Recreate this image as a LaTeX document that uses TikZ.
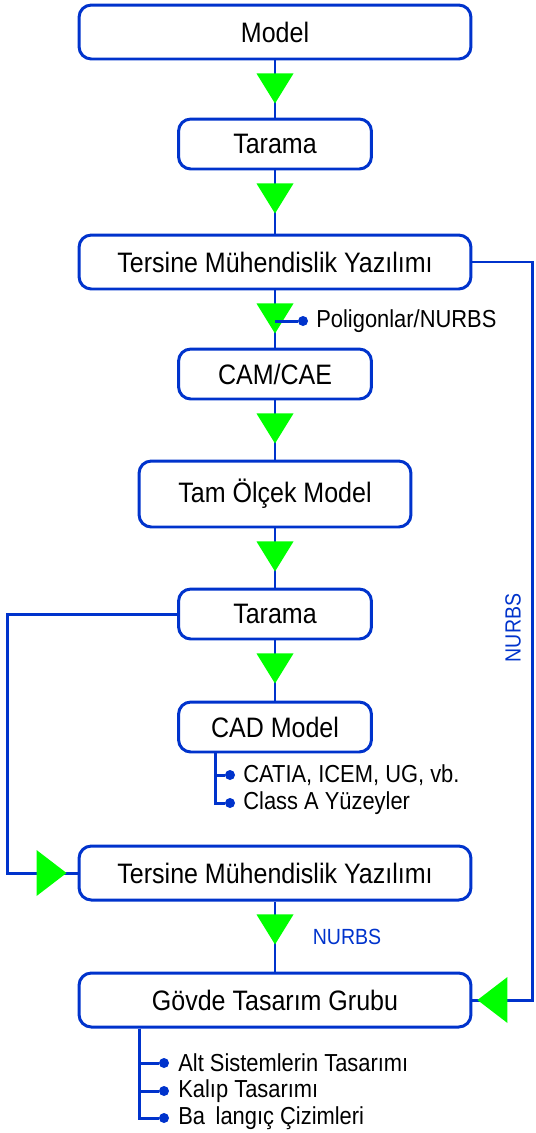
\documentclass[tikz,border=0pt]{standalone}
\usepackage{fontspec}
\setmainfont[FakeStretch=0.89]{Liberation Sans}
\usetikzlibrary{decorations.markings}
\definecolor{lineblue}{RGB}{0,51,204}
\definecolor{arrgreen}{RGB}{0,255,0}

\begin{document}
\begin{tikzpicture}[x=0.02cm, y=-0.02cm,
	box/.style = {draw=lineblue, line width=1.7pt, rounded corners=7pt, text=black, font=\fontsize{16}{19}\selectfont},
	wide/.style = {box, minimum width=7.84cm, minimum height=1.08cm},
	small/.style = {box, minimum width=3.86cm, minimum height=1.0cm},
	flow/.style = {draw=lineblue, line width=1.7pt},
	down/.style = {postaction=decorate, decoration={markings, mark=at position 0.86cm with {\fill[arrgreen] (0,0) -- (-30,18.5) -- (-30,-18.5) -- cycle;}}},
	side/.style = {postaction=decorate, decoration={markings, mark=at position #1 with {\fill[arrgreen] (0,0) -- (-30,23) -- (-30,-23) -- cycle;}}},
	dot/.style = {circle, fill=lineblue, inner sep=0pt, minimum size=0.2cm},
	item/.style = {anchor=west, inner sep=0pt, text=black, font=\fontsize{14}{16}\selectfont},
	tag/.style = {inner sep=0pt, text=lineblue, font=\fontsize{12.5}{15}\selectfont}]
	\useasboundingbox (0,0) rectangle (535,1133);
	\node[wide] (m) at (275,32) {Model};
	\node[small] (t1) at (275,144) {Tarama};
	\node[wide] (r1) at (275,262) {Tersine Mühendislik Yazılımı};
	\node[small] (c) at (275,374) {CAM/CAE};
	\node[box, minimum width=5.44cm, minimum height=1.32cm] (s) at (275,494) {Tam Ölçek Model};
	\node[small] (t2) at (275,614) {Tarama};
	\node[small] (cad) at (275,727) {CAD Model};
	\node[wide] (r2) at (275,873) {Tersine Mühendislik Yazılımı};
	\node[wide] (g) at (275,1000) {Gövde Tasarım Grubu};
	\draw[flow, down] (m) -- (t1);
	\draw[flow, down] (t1) -- (r1);
	\draw[flow, down] (r1) -- (c);
	\draw[flow, down] (c) -- (s);
	\draw[flow, down] (s) -- (t2);
	\draw[flow, down] (t2) -- (cad);
	\draw[flow, down] (r2) -- (g);
	\draw[flow, side=-0.22cm] (t2.west) -| ([xshift=-1.4cm]r2.west) -- (r2.west);
	\draw[flow, side=-0.1cm] (r1.east) -| ([xshift=1.2cm]g.east) -- (g.east);
	\node[dot] (p0) at (303,321) {};
	\node[item] (p) at (316,321) {Poligonlar/NURBS};
	\draw[flow] (r1.south |- p0) -- (p0);
	\node[dot] (d1) at (230,775) {};
	\node[dot] (d2) at (230,803) {};
	\node[item] (i1) at (243,775) {CATIA, ICEM, UG, vb.};
	\node[item] (i2) at (243,803) {Class A Yüzeyler};
	\draw[flow] ([xshift=-1.2cm]cad.south) |- (d1);
	\draw[flow] ([xshift=-1.2cm]cad.south) |- (d2);
	\node[dot] (e1) at (164,1063) {};
	\node[dot] (e2) at (164,1091) {};
	\node[dot] (e3) at (164,1118) {};
	\node[item] (j1) at (178,1063) {Alt Sistemlerin Tasarımı};
	\node[item] (j2) at (178,1091) {Kalıp Tasarımı};
	\node[item] (j3) at (178,1118) {Ba\hspace{6pt}langıç Çizimleri};
	\draw[flow] ([xshift=-2.72cm]g.south) |- (e1);
	\draw[flow] ([xshift=-2.72cm]g.south) |- (e2);
	\draw[flow] ([xshift=-2.72cm]g.south) |- (e3);
	\node[tag, rotate=90] (n1) at (513,628) {NURBS};
	\node[tag] (n2) at (347,937) {NURBS};
\end{tikzpicture}
\end{document}
